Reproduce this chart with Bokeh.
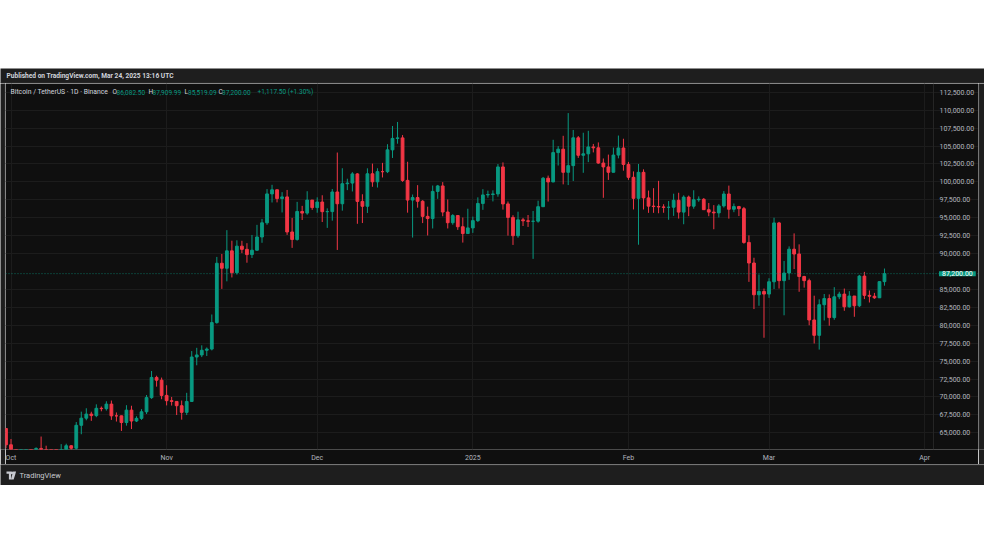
import pandas as pd
from bokeh.plotting import figure
from bokeh.models import (ColumnDataSource, Range1d, FixedTicker, NumeralTickFormatter,
                          Label, Span, Spacer)
from bokeh.layouts import column, row
from bokeh.embed import file_html
from bokeh.resources import INLINE

# ---------------- data (BTC/USDT daily, Binance) ----------------
dates = pd.date_range("2024-09-30", "2025-03-24", freq="D").strftime("%Y-%m-%d").tolist()

opens = [
    65602,
    63327, 60805, 60649, 60752, 62086, 62058, 62819, 62224, 62134, 60582, 60274, 62445, 63193, 62851, 66046,
    67041, 67612, 67399, 68418, 68362, 69001, 67367, 67361, 66432, 68161, 66642, 67014, 67929, 69907, 72720, 72339,
    70216, 69483, 69374, 68775, 67850, 69372, 75571, 75857, 76510, 76677, 80370, 88648, 87952, 90375, 87325,
    91032, 90587, 89855, 90464, 92310, 94286, 98318, 98892, 97672, 97901, 93010, 91965, 95864, 95644, 97460,
    96408, 97185, 95840, 95849, 98587, 96945, 99740, 99831, 101110, 97276, 96593, 101125, 100004, 101424, 101420, 104463,
    106058, 106133, 100204, 97461, 97805, 97292, 95186, 94881, 98663, 99430, 95792, 94299, 95300, 93738, 92792,
    93576, 94592, 96985, 98174, 98237, 98315, 102078, 96923, 95043, 92484, 94701, 94566, 94488, 94516, 96534, 100505,
    99987, 104078, 104557, 101331, 102261, 106144, 103706, 103910, 104871, 104746, 102621, 102082, 101335, 103734, 104722,
    102429, 100635, 97700, 101328, 97763, 96613, 96555, 96500, 96444, 96462, 97430, 95778, 97870, 96608,
    97500, 97569, 96118, 95780, 95671, 96644, 98305, 96181, 96551, 96258, 91552, 88680, 84250, 84708,
    84349, 86064, 94270, 86221, 87281, 90606, 89931, 86801, 86222, 80735, 78596, 82862, 83722, 81066, 83969, 84344,
    82579, 84075, 82718, 86855, 84167, 84043, 83832, 86082,
]
highs = [
    65618,
    64130, 62370, 61500, 62484, 62370, 62975, 64478, 63200, 62543, 61320, 63417, 63480, 63285, 66500, 67950,
    68424, 67939, 68969, 68667, 69400, 69500, 67836, 67400, 68850, 68771, 67300, 68300, 70270, 73620, 72961, 72700,
    71632, 70000, 69391, 69500, 70577, 76400, 76849, 77199, 76900, 81500, 89530, 89940, 93265, 91790, 91850,
    91779, 91449, 92594, 94002, 94831, 98988, 99588, 98908, 98564, 98871, 94973, 97208, 96650, 98693, 97463,
    97836, 98130, 96305, 99000, 104088, 101898, 100439, 101351, 101215, 98270, 101888, 102540, 101895, 102650, 105250, 107793,
    108353, 106524, 102800, 98233, 99540, 97448, 96538, 99487, 99569, 99963, 97544, 95500, 95300, 95024, 96250,
    95150, 97839, 98976, 98778, 98813, 102482, 102712, 97258, 95349, 95837, 94977, 95378, 95940, 97371, 100681, 100873,
    105865, 104988, 106422, 109588, 107240, 106394, 106850, 107120, 105286, 105500, 103260, 103800, 104782, 106457, 106012,
    102783, 101456, 102500, 101745, 98783, 99120, 100138, 96880, 97323, 98345, 98478, 98119, 98083, 98826,
    97972, 97732, 97046, 96753, 96899, 98711, 99475, 96980, 96650, 96500, 92540, 89414, 87078, 85120,
    86558, 95000, 94416, 88967, 91000, 92810, 91283, 86897, 86500, 84123, 83617, 84359, 84300, 85309, 84672, 85117,
    84756, 84075, 87022, 87443, 84850, 84513, 86129, 87910,
]
lows = [
    62856,
    60164, 59981, 59828, 60459, 61690, 61800, 62128, 61860, 60300, 58946, 60050, 62400, 62050, 62400, 64800,
    66750, 66666, 67177, 68000, 68100, 66800, 66571, 65260, 66000, 65521, 66500, 66800, 67620, 69730, 71436, 69685,
    68820, 68800, 67478, 66835, 67475, 69298, 74416, 75555, 75714, 76492, 80216, 85072, 86127, 86668, 87073,
    90056, 88722, 89376, 90406, 91500, 94004, 97122, 97136, 95734, 92600, 90791, 91792, 94677, 95407, 96092,
    95693, 94395, 93579, 94587, 90500, 95981, 98844, 98657, 94150, 94256, 95658, 99311, 99206, 100610, 101227, 103333,
    105321, 100000, 95700, 92232, 96398, 94250, 92520, 93500, 97632, 95200, 93500, 94017, 93300, 91530, 92750,
    92881, 94392, 96100, 97781, 97271, 97926, 96132, 92500, 91200, 92207, 93840, 93711, 89256, 94306, 96500, 97254,
    99950, 102278, 99651, 99550, 100119, 103339, 101262, 102750, 104106, 102520, 97777, 100272, 101328, 103278, 101560,
    100279, 96150, 91231, 96150, 95676, 95676, 95620, 95688, 94713, 95256, 94876, 94088, 95217, 96253,
    97223, 96101, 95205, 93388, 95029, 96415, 94871, 95770, 95227, 91371, 86050, 82256, 82716, 78258,
    83824, 85050, 85117, 81390, 86334, 87836, 84667, 85248, 80000, 77459, 76606, 80667, 79939, 80766, 83639, 82017,
    82457, 81180, 82547, 83647, 83175, 83675, 83800, 85519,
]
closes = [
    63327,
    60805, 60649, 60752, 62086, 62058, 62819, 62224, 62134, 60582, 60274, 62445, 63193, 62851, 66046, 67041,
    67612, 67399, 68418, 68362, 69001, 67367, 67361, 66432, 68161, 66642, 67014, 67929, 69907, 72720, 72339, 70216,
    69483, 69374, 68775, 67850, 69372, 75571, 75857, 76510, 76677, 80370, 88648, 87952, 90375, 87325, 91032,
    90587, 89855, 90464, 92310, 94286, 98318, 98892, 97672, 97901, 93010, 91965, 95864, 95644, 97460, 96408,
    97185, 95840, 95849, 98587, 96945, 99740, 99831, 101110, 97276, 96593, 101125, 100004, 101424, 101420, 104463, 106058,
    106133, 100204, 97461, 97805, 97292, 95186, 94881, 98663, 99430, 95792, 94299, 95300, 93738, 92792, 93576,
    94592, 96985, 98174, 98237, 98315, 102078, 96923, 95043, 92484, 94701, 94566, 94488, 94516, 96534, 100505, 99987,
    104078, 104557, 101331, 102261, 106144, 103706, 103910, 104871, 104746, 102621, 102082, 101335, 103734, 104722, 102429,
    100635, 97700, 101328, 97763, 96613, 96555, 96500, 96444, 96462, 97430, 95778, 97870, 96608, 97500,
    97569, 96118, 95780, 95671, 96644, 98305, 96181, 96551, 96258, 91552, 88680, 84250, 84708, 84349,
    86064, 94270, 86221, 87281, 90606, 89931, 86801, 86222, 80735, 78596, 82862, 83722, 81066, 83969, 84344, 82579,
    84075, 82718, 86855, 84167, 84043, 83832, 86082, 87200,
]

month_ticks = ["2024-10-01", "2024-11-01", "2024-12-01", "2025-01-01", "2025-02-01", "2025-03-01", "2025-04-01"]
month_labels = ["Oct", "Nov", "Dec", "2025", "Feb", "Mar", "Apr"]
price_ticks = [65000, 67500, 70000, 72500, 75000, 77500, 80000, 82500, 85000,
               90000, 92500, 95000, 97500, 100000, 102500, 105000, 107500, 110000, 112500]
last_price = 87200

header_text = "Published on TradingView.com, Mar 24, 2025 13:16 UTC"
symbol_text = "Bitcoin / TetherUS · 1D · Binance"
ohlc_keys = ["O", "H", "L", "C"]
ohlc_vals = ["86,082.50", "87,909.99", "85,519.09", "87,200.00"]
change_text = "+1,117.50 (+1.30%)"

# ---------------- styling ----------------
UP = "#089981"
DOWN = "#f23645"
PANEL = "#0f0f0f"
BAND = "#1e1e1e"
EDGE = "#2c2c2c"
GRID = "#1c1c1c"
TXT = "#b2b5be"
FONT = "Roboto"
W = 984

X_START = -1.096   # visible time range (days from Oct 1) at the pane's left edge
X_PANE = 183.77    # where the price scale begins
X_END = 192.73     # right edge of the price scale area


def band(width, height, edge=None):
    b = figure(width=width, height=height, x_range=Range1d(0, width), y_range=Range1d(0, height),
               toolbar_location=None, output_backend="svg", title=None,
               x_axis_location=None, y_axis_location=None, min_border=0,
               background_fill_color=BAND, border_fill_color=BAND, outline_line_color=None)
    b.grid.visible = False
    if edge is not None:
        dim, loc = edge
        b.add_layout(Span(location=loc, dimension=dim, line_color=EDGE, line_width=1))
    return b


origin = pd.Timestamp("2024-10-01")
xs = [(pd.Timestamp(d) - origin).days for d in dates]
tick_x = [(pd.Timestamp(d) - origin).days for d in month_ticks]

src = ColumnDataSource(dict(
    x=xs, open=opens, high=highs, low=lows, close=closes,
    top=[max(o, c) for o, c in zip(opens, closes)],
    bottom=[min(o, c) for o, c in zip(opens, closes)],
    color=[UP if c >= o else DOWN for o, c in zip(opens, closes)],
))

# ---------------- header band ----------------
h = band(W, 15, edge=("width", 0.5))
h.add_layout(Label(x=6, y=7.5, text=header_text, text_font=FONT, text_font_size="6.6px",
                   text_font_style="bold", text_color="#d1d4dc", text_baseline="middle"))

# ---------------- main chart ----------------
p = figure(width=973, height=381, x_range=Range1d(X_START, X_END), y_range=Range1d(62671, 113717),
           y_axis_location="right", toolbar_location=None, output_backend="svg", title=None,
           min_border_left=0, min_border_right=0, min_border_top=0, min_border_bottom=15,
           background_fill_color=PANEL, border_fill_color=PANEL, outline_line_color=None)

p.xaxis.ticker = FixedTicker(ticks=tick_x)
p.xaxis.major_label_overrides = {t: l for t, l in zip(tick_x, month_labels)}
p.xaxis.axis_line_color = None
p.xaxis.major_tick_line_color = None
p.xaxis.minor_tick_line_color = None
p.xaxis.major_tick_out = 0
p.xaxis.major_tick_in = 0
p.xaxis.major_label_standoff = 4
p.xaxis.major_label_text_font = FONT
p.xaxis.major_label_text_font_size = "7px"
p.xaxis.major_label_text_color = TXT

# price scale drawn inside the pane's right strip (TradingView style)
p.yaxis.ticker = FixedTicker(ticks=price_ticks)
p.yaxis.formatter = NumeralTickFormatter(format="0,0.00")
p.yaxis.axis_line_color = None
p.yaxis.major_tick_line_color = None
p.yaxis.minor_tick_line_color = None
p.yaxis.major_tick_out = 0
p.yaxis.major_tick_in = 0
p.yaxis.major_label_standoff = -39
p.yaxis.major_label_text_font = FONT
p.yaxis.major_label_text_font_size = "7px"
p.yaxis.major_label_text_color = TXT

p.xgrid.grid_line_color = GRID
p.ygrid.grid_line_color = GRID
p.ygrid.bounds = (X_START, X_PANE)

p.add_layout(Span(location=X_PANE, dimension="height", line_color="#262626", line_width=1))

p.segment(x0="x", y0="low", x1="x", y1="high", source=src, line_color="color", line_width=1)
p.vbar(x="x", width=0.55, top="top", bottom="bottom", source=src,
       fill_color="color", line_color="color", line_width=1)

p.add_layout(Span(location=last_price, dimension="width", line_color=UP, line_alpha=0.7,
                  line_dash="1 2", line_width=1))
p.add_layout(Label(x=933.5, y=last_price, x_units="screen", y_units="data",
                   text=ohlc_vals[3], text_font=FONT, text_font_size="7px", text_color="#ffffff",
                   text_baseline="middle", background_fill_color=UP,
                   padding=dict(left=3, right=3, top=0, bottom=0)))

# legend line (screen units relative to the plot frame)
leg_y = 357.5
p.add_layout(Label(x=5, y=leg_y, x_units="screen", y_units="screen", text=symbol_text,
                   text_font=FONT, text_font_size="6.8px", text_color="#d1d4dc", text_baseline="middle"))
key_x = [107, 143, 179, 213]
val_x = [111, 147, 182.5, 216.5]
for k, v, kx, vx in zip(ohlc_keys, ohlc_vals, key_x, val_x):
    p.add_layout(Label(x=kx, y=leg_y, x_units="screen", y_units="screen", text=k,
                       text_font=FONT, text_font_size="6.5px", text_color="#d1d4dc", text_baseline="middle"))
    p.add_layout(Label(x=vx, y=leg_y, x_units="screen", y_units="screen", text=v,
                       text_font=FONT, text_font_size="6.5px", text_color=UP, text_baseline="middle"))
p.add_layout(Label(x=252, y=leg_y, x_units="screen", y_units="screen", text=change_text,
                   text_font=FONT, text_font_size="6.5px", text_color=UP, text_baseline="middle"))

main_row = row(band(5, 381, edge=("height", 4.5)), p, band(6, 381, edge=("height", 0.5)), spacing=0)

# ---------------- footer band ----------------
f = band(W, 21, edge=("width", 20.5))
# TradingView logo (decorative shapes)
f.patches(xs=[[6, 10.6, 10.6, 8.4, 8.4, 6], [12.6, 15.6, 13.2, 10.4]],
          ys=[[14, 14, 6, 6, 11.8, 11.8], [14, 14, 6, 6]],
          fill_color="#c8cad0", line_color=None)
f.scatter(x=[11.4], y=[12.6], size=2.6, fill_color="#c8cad0", line_color=None)
f.add_layout(Label(x=19, y=10, text="TradingView", text_font=FONT, text_font_size="7.5px",
                   text_color="#c8cad0", text_baseline="middle"))

layout = column(Spacer(width=W, height=68), h, main_row, f, spacing=0)

open("out.html", "w").write(file_html(layout, INLINE))
